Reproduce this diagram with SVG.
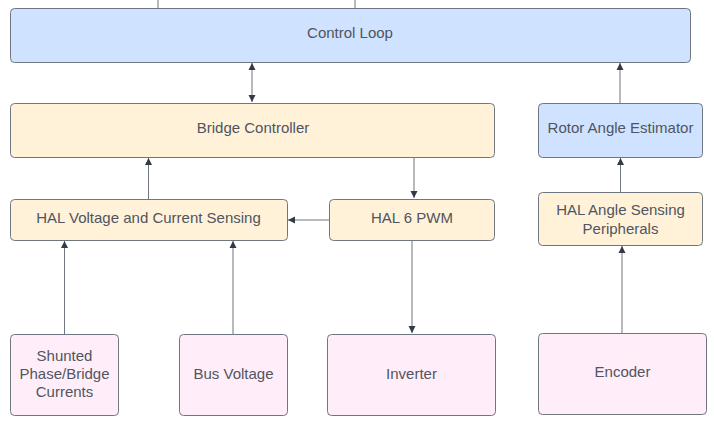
<svg xmlns="http://www.w3.org/2000/svg" width="714" height="430" viewBox="0 0 714 430">
<style>
.n{stroke:#6f7680;stroke-width:1}
.b{fill:#cfe2ff}
.y{fill:#fff2d9}
.p{fill:#ffeef9}
text{font-family:"Liberation Sans",Arial,sans-serif;font-size:15px;fill:#50555f;text-anchor:middle;dominant-baseline:central}
.c{stroke:#6f7680;stroke-width:1;fill:none}
</style>
<defs>
<marker id="ah" viewBox="0 0 10 10" refX="10" refY="5" markerWidth="7" markerHeight="10" markerUnits="userSpaceOnUse" orient="auto-start-reverse">
<path d="M0,0 L10,5 L0,10 Z" fill="#333a45"/>
</marker>
</defs>
<rect width="714" height="430" fill="#ffffff"/>
<g id="connectors">
<path class="c" d="M158,0 V8"/>
<path class="c" d="M355,0 V8"/>
<path class="c" d="M252,63 V102" marker-start="url(#ah)" marker-end="url(#ah)"/>
<path class="c" d="M620,103 V63" marker-end="url(#ah)"/>
<path class="c" d="M148.5,199 V158" marker-end="url(#ah)"/>
<path class="c" d="M414,157 V198" marker-end="url(#ah)"/>
<path class="c" d="M329,220 H288" marker-end="url(#ah)"/>
<path class="c" d="M620.5,192 V158" marker-end="url(#ah)"/>
<path class="c" d="M64.5,334 V241" marker-end="url(#ah)"/>
<path class="c" d="M233,334 V241" marker-end="url(#ah)"/>
<path class="c" d="M412,240 V333" marker-end="url(#ah)"/>
<path class="c" d="M622,333 V246" marker-end="url(#ah)"/>
</g>
<g id="control-loop"><rect class="n b" x="10.5" y="8.5" width="680" height="54" rx="4"/><text x="350" y="32">Control Loop</text></g>
<g id="bridge-controller"><rect class="n y" x="10.5" y="103.5" width="484" height="54" rx="4"/><text x="253" y="127">Bridge Controller</text></g>
<g id="rotor-angle-estimator"><rect class="n b" x="538.5" y="103.5" width="164" height="54" rx="4"/><text x="620.5" y="127">Rotor Angle Estimator</text></g>
<g id="hal-voltage-current"><rect class="n y" x="10.5" y="199.5" width="277" height="41" rx="4"/><text x="148.5" y="217">HAL Voltage and Current Sensing</text></g>
<g id="hal-6-pwm"><rect class="n y" x="329.5" y="199.5" width="165" height="41" rx="4"/><text x="412" y="217">HAL 6 PWM</text></g>
<g id="hal-angle-sensing"><rect class="n y" x="538.5" y="192.5" width="164" height="53" rx="4"/><text x="620.5" y="209">HAL Angle Sensing</text><text x="620.5" y="228">Peripherals</text></g>
<g id="shunted-currents"><rect class="n p" x="10.5" y="334.5" width="108" height="81" rx="4"/><text x="64.5" y="355">Shunted</text><text x="64.5" y="373">Phase/Bridge</text><text x="64.5" y="391">Currents</text></g>
<g id="bus-voltage"><rect class="n p" x="179.5" y="334.5" width="108" height="81" rx="4"/><text x="233.5" y="373">Bus Voltage</text></g>
<g id="inverter"><rect class="n p" x="327.5" y="334.5" width="168" height="81" rx="4"/><text x="411.5" y="373">Inverter</text></g>
<g id="encoder"><rect class="n p" x="538.5" y="333.5" width="168" height="81" rx="4"/><text x="622.5" y="371">Encoder</text></g>
</svg>
